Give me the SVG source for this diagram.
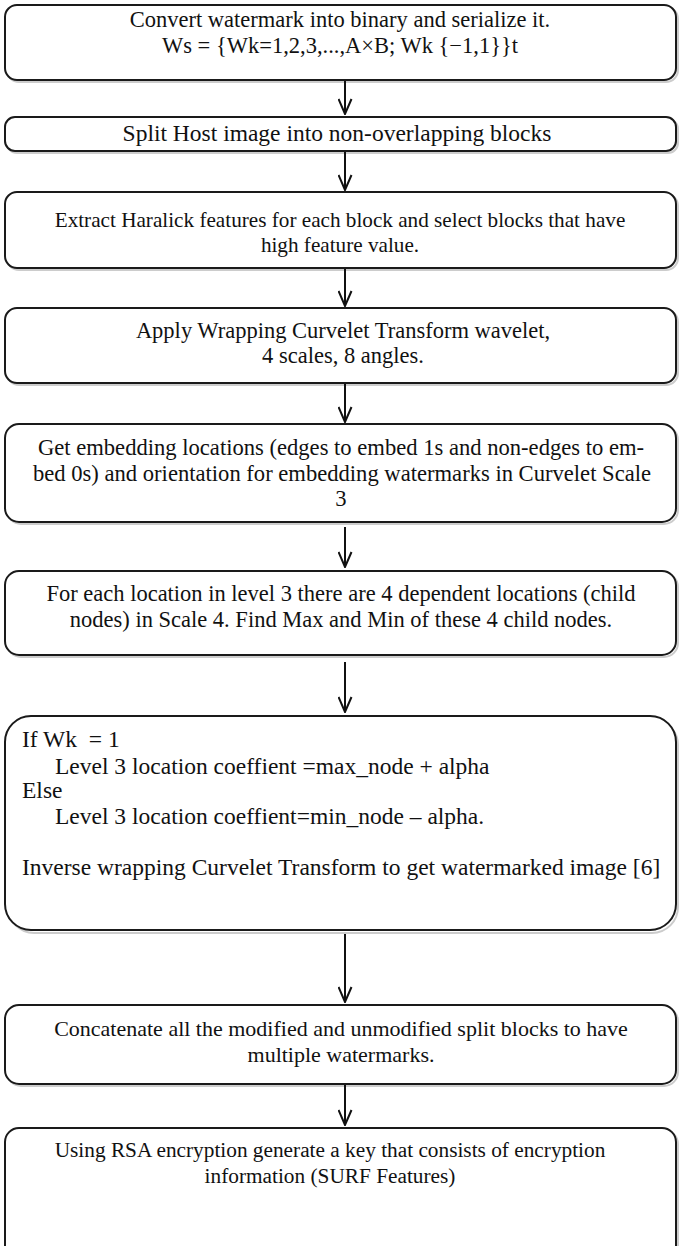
<svg xmlns="http://www.w3.org/2000/svg" width="679" height="1246" viewBox="0 0 679 1246">
  <style>
    .box { fill: #ffffff; stroke: #1a1a1a; stroke-width: 2; }
    .shadow { fill: none; stroke: #cccccc; stroke-width: 2; }
    .c { text-anchor: middle; }
    .edge { stroke: #111111; stroke-width: 2; fill: none; }
  </style>
  <defs>
    <marker id="vhead" markerWidth="17" markerHeight="15" refX="16" refY="7.5" orient="auto" markerUnits="userSpaceOnUse" viewBox="0 0 17 15">
      <path d="M1,1 L16,7.5 L1,14" fill="none" stroke="#111111" stroke-width="2"/>
    </marker>
  </defs>
  <rect width="679" height="1246" fill="#ffffff"/>

  <g font-family="Liberation Serif, Times New Roman, serif" font-size="21" fill="#111111">
  <g id="step1" font-size="22.5">
    <rect class="shadow" x="7" y="7" width="671" height="75" rx="12"/>
    <rect class="box" x="5" y="5" width="671" height="75" rx="12"/>
    <text class="c" x="340" y="27">Convert watermark into binary and serialize it.</text>
    <text class="c" x="340" y="53">Ws = {Wk=1,2,3,...,A×B; Wk {−1,1}}t</text>
  </g>

  <g id="step2" font-size="23.5">
    <rect class="shadow" x="7" y="119" width="671" height="34" rx="10"/>
    <rect class="box" x="5" y="117" width="671" height="34" rx="10"/>
    <text class="c" x="337" y="141">Split Host image into non-overlapping blocks</text>
  </g>

  <g id="step3" font-size="21.2">
    <rect class="shadow" x="7" y="194" width="671" height="76" rx="12"/>
    <rect class="box" x="5" y="192" width="671" height="76" rx="12"/>
    <text class="c" x="340" y="227">Extract Haralick features for each block and select blocks that have</text>
    <text class="c" x="340" y="252">high feature value.</text>
  </g>

  <g id="step4" font-size="22.5">
    <rect class="shadow" x="7" y="310" width="671" height="75" rx="12"/>
    <rect class="box" x="5" y="308" width="671" height="75" rx="12"/>
    <text class="c" x="343" y="338">Apply Wrapping Curvelet Transform wavelet,</text>
    <text class="c" x="343" y="363">4 scales, 8 angles.</text>
  </g>

  <g id="step5" font-size="22.6">
    <rect class="shadow" x="7" y="426" width="671" height="98" rx="14"/>
    <rect class="box" x="5" y="424" width="671" height="98" rx="14"/>
    <text class="c" x="341" y="455">Get embedding locations (edges to embed 1s and non-edges to em-</text>
    <text class="c" x="342" y="481">bed 0s) and orientation for embedding watermarks in Curvelet Scale</text>
    <text class="c" x="341" y="506">3</text>
  </g>

  <g id="step6" font-size="22.5">
    <rect class="shadow" x="7" y="573" width="671" height="84" rx="14"/>
    <rect class="box" x="5" y="571" width="671" height="84" rx="14"/>
    <text class="c" x="341" y="601">For each location in level 3 there are 4 dependent locations (child</text>
    <text class="c" x="341" y="627">nodes) in Scale 4. Find Max and Min of these 4 child nodes.</text>
  </g>

  <g id="step7" font-size="23.5">
    <rect class="shadow" x="8" y="719" width="670" height="214" rx="26"/>
    <rect class="box" x="5" y="716" width="671" height="214" rx="26"/>
    <text x="22" y="747">If Wk&#160; = 1</text>
    <text x="55" y="774">Level 3 location coeffient =max_node + alpha</text>
    <text x="22" y="798">Else</text>
    <text x="55" y="824">Level 3 location coeffient=min_node – alpha.</text>
    <text x="22" y="875">Inverse wrapping Curvelet Transform to get watermarked image [6]</text>
  </g>

  <g id="step8" font-size="22">
    <rect class="shadow" x="7" y="1007" width="671" height="79" rx="14"/>
    <rect class="box" x="5" y="1005" width="671" height="79" rx="14"/>
    <text class="c" x="341" y="1036">Concatenate all the modified and unmodified split blocks to have</text>
    <text class="c" x="341" y="1062">multiple watermarks.</text>
  </g>

  <g id="step9" font-size="21.3">
    <rect class="shadow" x="7" y="1130" width="671" height="140" rx="14"/>
    <rect class="box" x="5" y="1128" width="671" height="140" rx="14"/>
    <text class="c" x="330" y="1157">Using RSA encryption generate a key that consists of encryption</text>
    <text class="c" x="330" y="1183">information (SURF Features)</text>
  </g>
  </g>

  <g id="connectors">
    <line class="edge" x1="345" y1="81" x2="345" y2="114" marker-end="url(#vhead)"/>
    <line class="edge" x1="345" y1="152" x2="345" y2="190" marker-end="url(#vhead)"/>
    <line class="edge" x1="345" y1="269" x2="345" y2="306" marker-end="url(#vhead)"/>
    <line class="edge" x1="345" y1="384" x2="345" y2="422" marker-end="url(#vhead)"/>
    <line class="edge" x1="345" y1="527" x2="345" y2="567" marker-end="url(#vhead)"/>
    <line class="edge" x1="345" y1="662" x2="345" y2="712" marker-end="url(#vhead)"/>
    <line class="edge" x1="345" y1="934" x2="345" y2="1002" marker-end="url(#vhead)"/>
    <line class="edge" x1="345" y1="1085" x2="345" y2="1125" marker-end="url(#vhead)"/>
  </g>
</svg>
